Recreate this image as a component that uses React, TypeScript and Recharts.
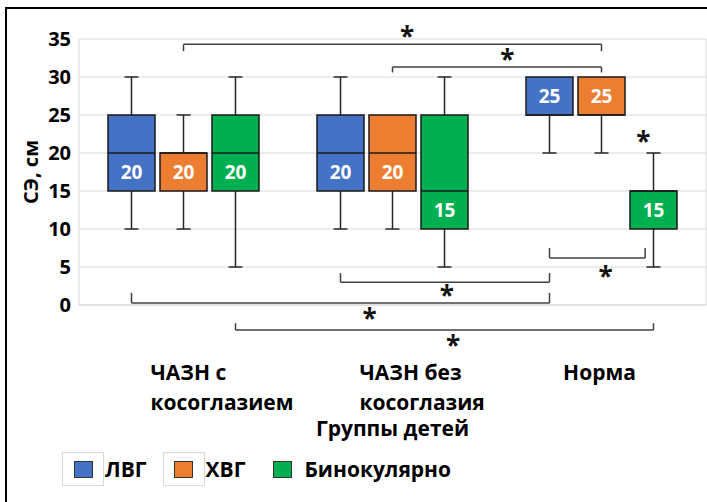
import {
  ComposedChart,
  Bar,
  XAxis,
  YAxis,
  CartesianGrid,
  ReferenceLine,
  ReferenceDot,
  Legend,
} from "recharts";

const FONT = '"Open Sans", "Noto Sans", sans-serif';

const categoryLines = [["ЧАЗН с", "косоглазием"], ["ЧАЗН без", "косоглазия"], ["Норма"]];
const categories = categoryLines.map((l) => l.join(" "));

const seriesNames = ["ЛВГ", "ХВГ", "Бинокулярно"];
const seriesColors = ["#4472C4", "#ED7D31", "#00B050"];

// box stats per group: min, q1, median, q3, max
const lvgMin = [10, 10, 20];
const lvgQ1 = [15, 15, 25];
const lvgMed = [20, 20, 25];
const lvgQ3 = [25, 25, 30];
const lvgMax = [30, 30, 30];

const hvgMin = [10, 10, 20];
const hvgQ1 = [15, 15, 25];
const hvgMed = [20, 20, 25];
const hvgQ3 = [20, 25, 30];
const hvgMax = [25, 25, 30];

const binMin = [5, 5, 5];
const binQ1 = [15, 10, 10];
const binMed = [20, 15, 15];
const binQ3 = [25, 25, 15];
const binMax = [30, 30, 20];

const yTicks = [0, 5, 10, 15, 20, 25, 30, 35];

// significance brackets: [group, series] -> [group, series], bar level and tip level (axis units)
const brackets = [
  { from: [0, 1], to: [2, 1], level: 34.3, tip: 33.4, shiftTo: 0 },
  { from: [1, 1], to: [2, 1], level: 31.3, tip: 30.6, shiftTo: 0 },
  { from: [1, 0], to: [2, 0], level: 3.0, tip: 4.2, shiftTo: 0 },
  { from: [0, 0], to: [2, 0], level: 0.25, tip: 1.6, shiftTo: 0 },
  { from: [0, 2], to: [2, 2], level: -3.3, tip: -2.4, shiftTo: 0 },
  { from: [2, 0], to: [2, 2], level: 6.2, tip: 7.5, shiftTo: -0.04 },
];

// asterisks (x in group units 0..3, y in axis units)
const starX = [1.57, 2.05, 2.7, 1.76, 1.39, 1.79, 2.52];
const starY = [35.8, 32.8, 22.0, 1.7, -1.3, -4.9, 4.2];

const stats = [
  { min: lvgMin, q1: lvgQ1, med: lvgMed, q3: lvgQ3, max: lvgMax },
  { min: hvgMin, q1: hvgQ1, med: hvgMed, q3: hvgQ3, max: hvgMax },
  { min: binMin, q1: binQ1, med: binMed, q3: binQ3, max: binMax },
];

const data = categories.map((name, g) => {
  const row: any = { name, pos: g + 0.5 };
  stats.forEach((s, i) => {
    row["s" + i] = { min: s.min[g], q1: s.q1[g], med: s.med[g], q3: s.q3[g], max: s.max[g] };
  });
  return row;
});

const W = 707;
const H = 502;
const Y_AXIS_W = 79;
const MARGIN = { top: 39, right: 1, left: 0, bottom: 0 };
const X_AXIS_H = 197;
const BAR_SIZE = 47;
const BAR_GAP = 5;
const BAND = (W - Y_AXIS_W - MARGIN.right) / categories.length;
const SERIES_STEP = (BAR_SIZE + BAR_GAP) / BAND;

const posX = (g: number, s: number) => g + 0.5 + (s - 1) * SERIES_STEP;

const makeBox = (key: string, color: string) => (props: any) => {
  const { x, y, width, height, payload } = props;
  const st = payload[key];
  const top = Math.min(y, y + height);
  const k = Math.abs(height) / (st.max - st.min);
  const py = (v: number) => top + (st.max - v) * k;
  const cx = x + width / 2;
  const cap = 7;
  const labelY = st.med > st.q1 ? (py(st.q1) + py(st.med)) / 2 : (py(st.med) + py(st.q3)) / 2;
  return (
    <g>
      {st.max > st.q3 && (
        <g stroke="#262626" strokeWidth={1.5}>
          <line x1={cx} x2={cx} y1={py(st.max)} y2={py(st.q3)} />
          <line x1={cx - cap} x2={cx + cap} y1={py(st.max)} y2={py(st.max)} />
        </g>
      )}
      {st.min < st.q1 && (
        <g stroke="#262626" strokeWidth={1.5}>
          <line x1={cx} x2={cx} y1={py(st.q1)} y2={py(st.min)} />
          <line x1={cx - cap} x2={cx + cap} y1={py(st.min)} y2={py(st.min)} />
        </g>
      )}
      <rect
        x={x}
        y={py(st.q3)}
        width={width}
        height={py(st.q1) - py(st.q3)}
        fill={color}
        stroke="#1a1a1a"
        strokeWidth={1.5}
      />
      <line x1={x} x2={x + width} y1={py(st.med)} y2={py(st.med)} stroke="#1a1a1a" strokeWidth={1.5} />
      <text
        x={cx}
        y={labelY}
        textAnchor="middle"
        dominantBaseline="central"
        fill="#fff"
        fontFamily={FONT}
        fontWeight={700}
        fontSize={19}
      >
        {st.med}
      </text>
    </g>
  );
};

function CategoryTick({ x, y, payload }: any) {
  const lines = categoryLines[categories.indexOf(payload.value)];
  const multi = lines.length > 1;
  const tx = multi ? x - 33 : x - 2;
  return (
    <text
      x={tx}
      y={y}
      textAnchor={multi ? "start" : "middle"}
      fontFamily={FONT}
      fontWeight={700}
      fontSize={21}
      fill="#000"
    >
      {lines.map((l, i) => (
        <tspan key={i} x={tx} y={y + 67 + i * 30} dominantBaseline="central">
          {l}
        </tspan>
      ))}
    </text>
  );
}

function LegendContent() {
  return (
    <div style={{ display: "flex", alignItems: "center", fontFamily: FONT, fontWeight: 700, fontSize: 21 }}>
      {seriesNames.map((n, i) => (
        <div key={n} style={{ display: "flex", alignItems: "center", marginRight: 16 }}>
          <div
            style={{
              width: 42,
              height: 34,
              boxSizing: "border-box",
              border: i < 2 ? "1px solid #d9d9d9" : "1px solid transparent",
              display: "flex",
              alignItems: "center",
              justifyContent: "center",
            }}
          >
            <div style={{ width: 17, height: 15, background: seriesColors[i], border: "1.5px solid #333" }} />
          </div>
          <span style={{ marginLeft: 1 }}>{n}</span>
        </div>
      ))}
    </div>
  );
}

export default function App() {
  return (
    <div
      style={{
        position: "fixed",
        left: 0,
        top: 0,
        width: W,
        height: H,
        overflow: "hidden",
        background: "#fff",
      }}
    >
      <div
        style={{
          position: "absolute",
          left: 5,
          top: 7,
          width: W + 20,
          height: H + 20,
          border: "2px solid #000",
        }}
      />
      <div style={{ position: "absolute", left: 0, top: 0 }}>
        <ComposedChart width={W} height={H} data={data} margin={MARGIN} barSize={BAR_SIZE} barGap={BAR_GAP}>
          <CartesianGrid vertical={false} stroke="#d9d9d9" xAxisId="cat" />
          <XAxis
            xAxisId="cat"
            dataKey="name"
            height={X_AXIS_H}
            axisLine={{ stroke: "#d9d9d9" }}
            tickLine={false}
            tickSize={0}
            tickMargin={0}
            interval={0}
            tick={<CategoryTick />}
            label={(p: any) => (
              <text
                x={p.viewBox.x + p.viewBox.width / 2}
                y={p.viewBox.y + 123}
                textAnchor="middle"
                dominantBaseline="central"
                fontFamily={FONT}
                fontWeight={700}
                fontSize={21}
                fill="#000"
              >
                Группы детей
              </text>
            )}
          />
          <XAxis xAxisId="num" dataKey="pos" type="number" domain={[0, 3]} allowDataOverflow hide />
          <YAxis
            domain={[0, 35]}
            ticks={yTicks}
            width={Y_AXIS_W}
            axisLine={{ stroke: "#d9d9d9" }}
            tickLine={false}
            tickSize={0}
            tickMargin={8}
            tick={{ fontSize: 20, fontWeight: 700, fill: "#000", fontFamily: FONT }}
            label={(p: any) => {
              const cx = p.viewBox.x + 30;
              const cy = p.viewBox.y + p.viewBox.height / 2;
              return (
                <text
                  x={cx}
                  y={cy}
                  transform={`rotate(-90 ${cx} ${cy})`}
                  textAnchor="middle"
                  dominantBaseline="central"
                  fontFamily={FONT}
                  fontWeight={700}
                  fontSize={20}
                  fill="#000"
                >
                  СЭ, см
                </text>
              );
            }}
          />
          <ReferenceLine xAxisId="num" x={3} stroke="#d9d9d9" ifOverflow="visible" />
          {seriesNames.map((n, i) => (
            <Bar
              key={n}
              xAxisId="cat"
              name={n}
              dataKey={(d: any) => [d["s" + i].min, d["s" + i].max]}
              fill={seriesColors[i]}
              shape={makeBox("s" + i, seriesColors[i])}
              isAnimationActive={false}
            />
          ))}
          {brackets.flatMap((b, i) => {
            const x1 = posX(b.from[0], b.from[1]);
            const x2 = posX(b.to[0], b.to[1]) + b.shiftTo;
            const common = { xAxisId: "num", stroke: "#404040", strokeWidth: 1.5, ifOverflow: "visible" as const };
            return [
              <ReferenceLine key={`b${i}a`} {...common} segment={[{ x: x1, y: b.tip }, { x: x1, y: b.level }]} />,
              <ReferenceLine key={`b${i}b`} {...common} segment={[{ x: x1, y: b.level }, { x: x2, y: b.level }]} />,
              <ReferenceLine key={`b${i}c`} {...common} segment={[{ x: x2, y: b.level }, { x: x2, y: b.tip }]} />,
            ];
          })}
          {starX.map((sx, i) => (
            <ReferenceDot
              key={`s${i}`}
              xAxisId="num"
              x={sx}
              y={starY[i]}
              r={0}
              ifOverflow="visible"
              shape={(p: any) => (
                <text
                  x={p.cx}
                  y={p.cy + 3}
                  textAnchor="middle"
                  dominantBaseline="central"
                  fontFamily={FONT}
                  fontWeight={700}
                  fontSize={26}
                  fill="#111"
                >
                  *
                </text>
              )}
            />
          ))}
          <Legend
            layout="horizontal"
            verticalAlign="middle"
            align="center"
            content={<LegendContent />}
            wrapperStyle={{ position: "absolute", left: 62, top: 452, width: "auto" }}
          />
        </ComposedChart>
      </div>
    </div>
  );
}
